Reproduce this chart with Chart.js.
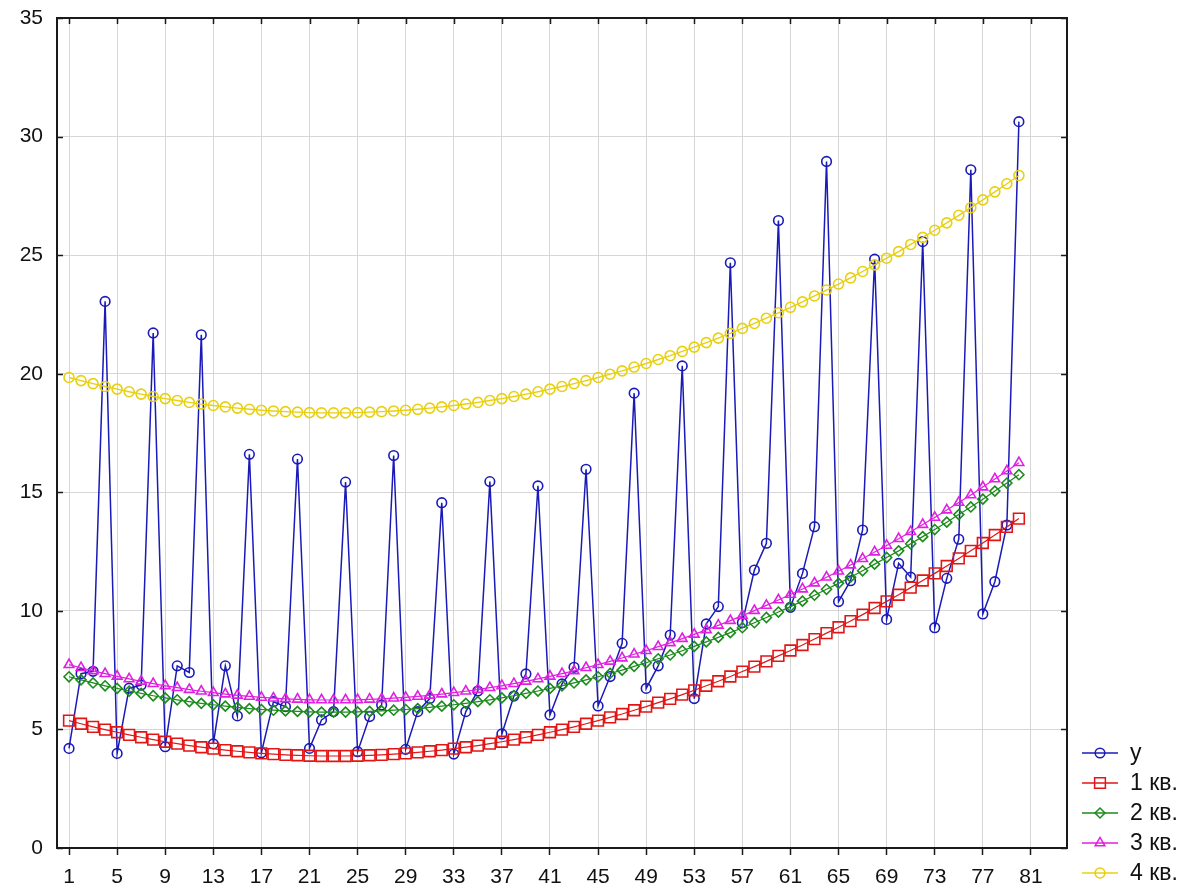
<!DOCTYPE html>
<html>
<head>
<meta charset="utf-8">
<title>y и тренды по кварталам</title>
<script src="https://cdn.jsdelivr.net/npm/chart.js@4.4.1/dist/chart.umd.min.js"></script>
<style>
  html, body { margin: 0; padding: 0; background: #fff; }
  #wrap { width: 1194px; height: 890px; }
</style>
</head>
<body>
<div id="wrap"><canvas id="myChart" width="1194" height="890"></canvas></div>
<script>
// periods (t = 1..80)
const periods = [
  1, 2, 3, 4, 5, 6, 7, 8, 9, 10, 11, 12, 13, 14, 15, 16, 17, 18, 19, 20,
  21, 22, 23, 24, 25, 26, 27, 28, 29, 30, 31, 32, 33, 34, 35, 36, 37, 38, 39, 40,
  41, 42, 43, 44, 45, 46, 47, 48, 49, 50, 51, 52, 53, 54, 55, 56, 57, 58, 59, 60,
  61, 62, 63, 64, 65, 66, 67, 68, 69, 70, 71, 72, 73, 74, 75, 76, 77, 78, 79, 80
];

const xTickValues = [1, 5, 9, 13, 17, 21, 25, 29, 33, 37, 41, 45, 49, 53, 57, 61, 65, 69, 73, 77, 81];
const yTickValues = [0, 5, 10, 15, 20, 25, 30, 35];

const seriesNames = ["y", "1 кв.", "2 кв.", "3 кв.", "4 кв."];

const yValues = [
  4.20, 7.35, 7.45, 23.05,
  3.99, 6.74, 6.87, 21.72,
  4.27, 7.68, 7.40, 21.64,
  4.39, 7.68, 5.57, 16.60,
  4.02, 6.17, 5.96, 16.40,
  4.20, 5.40, 5.75, 15.43,
  4.06, 5.54, 6.03, 16.55,
  4.16, 5.75, 6.30, 14.56,
  3.96, 5.75, 6.62, 15.45,
  4.81, 6.41, 7.34, 15.27,
  5.61, 6.92, 7.62, 15.97,
  5.99, 7.23, 8.63, 19.18,
  6.73, 7.68, 8.98, 20.33,
  6.30, 9.45, 10.18, 24.68,
  9.50, 11.72, 12.85, 26.46,
  10.15, 11.58, 13.55, 28.95,
  10.39, 11.27, 13.41, 24.83,
  9.64, 12.00, 11.42, 25.57,
  9.29, 11.37, 13.02, 28.60,
  9.87, 11.23, 13.62, 30.63
];

const q1Values = [
  5.37, 5.24, 5.11, 4.99, 4.88, 4.77, 4.67, 4.57, 4.48, 4.40,
  4.32, 4.25, 4.19, 4.13, 4.08, 4.03, 3.99, 3.96, 3.93, 3.91,
  3.89, 3.88, 3.88, 3.88, 3.89, 3.91, 3.93, 3.96, 3.99, 4.03,
  4.08, 4.13, 4.19, 4.25, 4.32, 4.40, 4.48, 4.57, 4.67, 4.77,
  4.88, 4.99, 5.11, 5.24, 5.37, 5.51, 5.65, 5.81, 5.96, 6.13,
  6.29, 6.47, 6.65, 6.84, 7.03, 7.23, 7.44, 7.65, 7.87, 8.10,
  8.33, 8.56, 8.81, 9.06, 9.31, 9.57, 9.84, 10.12, 10.40, 10.68,
  10.98, 11.28, 11.58, 11.89, 12.21, 12.53, 12.86, 13.20, 13.54, 13.89
];

const q2Values = [
  7.22, 7.09, 6.96, 6.84, 6.73, 6.62, 6.52, 6.42, 6.33, 6.25,
  6.17, 6.10, 6.04, 5.98, 5.93, 5.88, 5.84, 5.81, 5.78, 5.76,
  5.74, 5.73, 5.73, 5.73, 5.74, 5.76, 5.78, 5.81, 5.84, 5.88,
  5.93, 5.98, 6.04, 6.10, 6.17, 6.25, 6.33, 6.42, 6.52, 6.62,
  6.73, 6.84, 6.96, 7.09, 7.22, 7.36, 7.50, 7.66, 7.81, 7.98,
  8.14, 8.32, 8.50, 8.69, 8.88, 9.08, 9.29, 9.50, 9.72, 9.95,
  10.18, 10.41, 10.66, 10.91, 11.16, 11.42, 11.69, 11.97, 12.25, 12.53,
  12.83, 13.13, 13.43, 13.74, 14.06, 14.38, 14.71, 15.05, 15.39, 15.74
];

const q3Values = [
  7.73, 7.60, 7.47, 7.35, 7.24, 7.13, 7.03, 6.93, 6.84, 6.76,
  6.68, 6.61, 6.55, 6.49, 6.44, 6.39, 6.35, 6.32, 6.29, 6.27,
  6.25, 6.24, 6.24, 6.24, 6.25, 6.27, 6.29, 6.32, 6.35, 6.39,
  6.44, 6.49, 6.55, 6.61, 6.68, 6.76, 6.84, 6.93, 7.03, 7.13,
  7.24, 7.35, 7.47, 7.60, 7.73, 7.87, 8.01, 8.17, 8.32, 8.49,
  8.65, 8.83, 9.01, 9.20, 9.39, 9.59, 9.80, 10.01, 10.23, 10.46,
  10.69, 10.92, 11.17, 11.42, 11.67, 11.93, 12.20, 12.48, 12.76, 13.04,
  13.34, 13.64, 13.94, 14.25, 14.57, 14.89, 15.22, 15.56, 15.90, 16.25
];

const q4Values = [
  19.84, 19.71, 19.58, 19.46, 19.35, 19.24, 19.14, 19.04, 18.95, 18.87,
  18.79, 18.72, 18.66, 18.60, 18.55, 18.50, 18.46, 18.43, 18.40, 18.38,
  18.36, 18.35, 18.35, 18.35, 18.36, 18.38, 18.40, 18.43, 18.46, 18.50,
  18.55, 18.60, 18.66, 18.72, 18.79, 18.87, 18.95, 19.04, 19.14, 19.24,
  19.35, 19.46, 19.58, 19.71, 19.84, 19.98, 20.12, 20.28, 20.43, 20.60,
  20.76, 20.94, 21.12, 21.31, 21.50, 21.70, 21.91, 22.12, 22.34, 22.57,
  22.80, 23.03, 23.28, 23.53, 23.78, 24.04, 24.31, 24.59, 24.87, 25.15,
  25.45, 25.75, 26.05, 26.36, 26.68, 27.00, 27.33, 27.67, 28.01, 28.36
];

const fontFamily = "'Liberation Sans', Arial, sans-serif";

const styles = [
  { color: "#1a1ab8", marker: "circle", radius: 4.8, width: 1.5, order: 4 },
  { color: "#e21515", marker: "rect", radius: 7.6, width: 1.2, order: 3 },
  { color: "#1c8a1c", marker: "rectRot", radius: 5, width: 1.2, order: 2 },
  { color: "#e020e0", marker: "triangle", radius: 5.6, width: 1.2, order: 1 },
  { color: "#e8d010", marker: "circle", radius: 5, width: 1.4, order: 0 }
];

function toPoints(values) {
  return periods.map((t, i) => ({ x: t, y: values[i] }));
}

function makeDataset(index, values) {
  const s = styles[index];
  return {
    label: seriesNames[index],
    data: toPoints(values),
    borderColor: s.color,
    borderWidth: s.width,
    pointStyle: s.marker,
    pointRadius: s.radius,
    pointBorderColor: s.color,
    pointBorderWidth: 1.6,
    pointBackgroundColor: "rgba(0,0,0,0)",
    tension: 0,
    order: s.order
  };
}

// frame, inward tick marks and the line+marker legend
const framePlugin = {
  id: "frameAndLegend",
  afterDraw(chart) {
    const ctx = chart.ctx;
    const area = chart.chartArea;
    const xs = chart.scales.x;
    const ys = chart.scales.y;
    ctx.save();
    ctx.strokeStyle = "#1a1a1a";
    ctx.lineWidth = 1.5;
    ctx.beginPath();
    xTickValues.forEach((v) => {
      const px = Math.round(xs.getPixelForValue(v)) + 0.5;
      ctx.moveTo(px, area.top);
      ctx.lineTo(px, area.top + 6);
    });
    yTickValues.forEach((v) => {
      const py = Math.round(ys.getPixelForValue(v)) + 0.5;
      ctx.moveTo(area.left, py);
      ctx.lineTo(area.left + 6, py);
      ctx.moveTo(area.right - 6, py);
      ctx.lineTo(area.right, py);
    });
    ctx.stroke();
    ctx.lineWidth = 2;
    ctx.strokeRect(area.left, area.top, area.right - area.left, area.bottom - area.top);

    // legend
    const lx = 1082;
    let ly = 753;
    ctx.font = "23px " + fontFamily;
    ctx.textBaseline = "middle";
    ctx.textAlign = "left";
    seriesNames.forEach((name, i) => {
      const s = styles[i];
      ctx.strokeStyle = s.color;
      ctx.lineWidth = 1.5;
      ctx.beginPath();
      ctx.moveTo(lx, ly);
      ctx.lineTo(lx + 36, ly);
      ctx.stroke();
      ctx.fillStyle = "rgba(0,0,0,0)";
      Chart.helpers.drawPoint(ctx, { pointStyle: s.marker, radius: s.radius, borderWidth: 1.5, rotation: 0 }, lx + 18, ly);
      ctx.fillStyle = "#111";
      ctx.fillText(name, lx + 48, ly + 1);
      ly += 30;
    });
    ctx.restore();
  }
};

function initChart() {
  const ctx = document.getElementById("myChart");
  return new Chart(ctx, {
    type: "line",
    data: {
      datasets: [
        makeDataset(0, yValues),
        makeDataset(1, q1Values),
        makeDataset(2, q2Values),
        makeDataset(3, q3Values),
        makeDataset(4, q4Values)
      ]
    },
    options: {
      responsive: false,
      animation: false,
      layout: { padding: { top: 18, right: 127, left: 0, bottom: 0 } },
      plugins: {
        legend: { display: false },
        tooltip: { enabled: false }
      },
      scales: {
        x: {
          type: "linear",
          min: 0,
          max: 84,
          afterBuildTicks: (scale) => {
            scale.ticks = xTickValues.map((v) => ({ value: v }));
          },
          afterFit: (scale) => {
            scale.height = 42;
            scale.paddingLeft = 0;
            scale.paddingRight = 0;
          },
          grid: { color: "#d6d6d6", lineWidth: 1, drawTicks: true, tickLength: 7, tickColor: "#1a1a1a", tickWidth: 1.5 },
          border: { display: false },
          ticks: { color: "#111", font: { family: fontFamily, size: 21 }, padding: 10, maxRotation: 0, autoSkip: false }
        },
        y: {
          min: 0,
          max: 35,
          afterBuildTicks: (scale) => {
            scale.ticks = yTickValues.map((v) => ({ value: v }));
          },
          afterFit: (scale) => {
            scale.width = 57;
            scale.paddingTop = 0;
            scale.paddingBottom = 0;
          },
          grid: { color: "#d6d6d6", lineWidth: 1, drawTicks: false },
          border: { display: false },
          ticks: { color: "#111", font: { family: fontFamily, size: 21 }, padding: 14 }
        }
      }
    },
    plugins: [framePlugin]
  });
}

document.addEventListener("DOMContentLoaded", () => initChart());
</script>
</body>
</html>
